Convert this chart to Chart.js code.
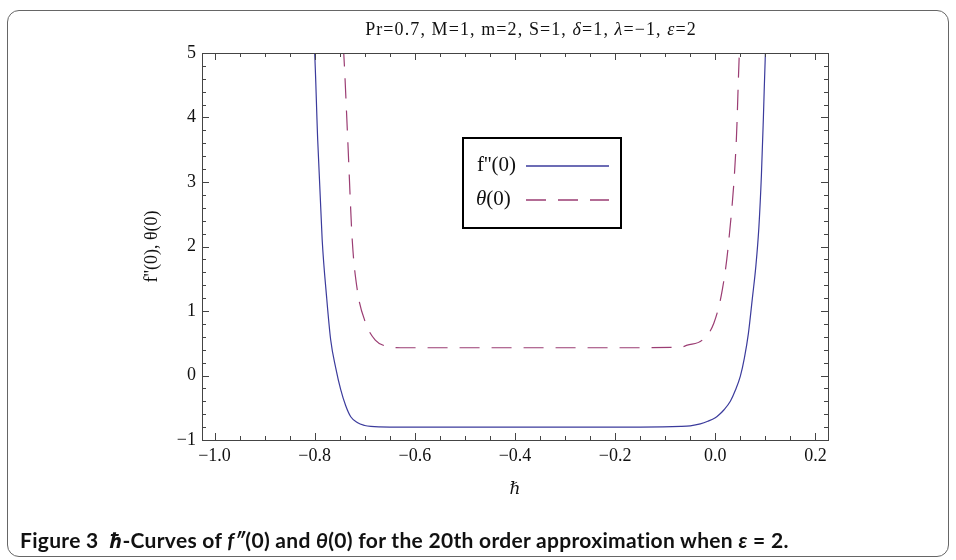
<!DOCTYPE html>
<html>
<head>
<meta charset="utf-8">
<script src="https://cdn.jsdelivr.net/npm/chart.js@4.4.1/dist/chart.umd.min.js"></script>
<style>
  html, body { margin: 0; padding: 0; background: #fff; }
  body { width: 956px; height: 560px; position: relative; overflow: hidden; }
  #frame {
    position: absolute; left: 7px; top: 10px; width: 942px; height: 547px;
    border: 1.5px solid #666; border-radius: 12px; box-sizing: border-box;
  }
  #wrap { position: absolute; left: 0; top: 0; width: 956px; height: 560px; }
  #title {
    position: absolute; top: 19px; left: 531px; transform: translateX(-50%);
    font-family: "Liberation Serif", serif; font-size: 18px; letter-spacing: 1.1px;
    white-space: nowrap; color: #111;
  }
  #caption {
    position: absolute; left: 20px; top: 526px;
    font-family: Lato, "Noto Sans", sans-serif; font-weight: bold; font-size: 21px;
    letter-spacing: 0.3px; white-space: nowrap; color: #111;
  }
</style>
</head>
<body>
<div id="frame"></div>
<div id="wrap"><canvas id="chart" width="956" height="560"></canvas></div>
<div id="title">Pr=0.7, M=1, m=2, S=1, <i>δ</i>=1, <i>λ</i>=−1, <i>ε</i>=2</div>
<div id="caption">Figure 3&nbsp; <i>ℏ</i>-Curves of <i>f″</i>(0) and <i>θ</i>(0) for the 20th order approximation when <i>ε</i> = 2.</div>
<script>
// f''(0) against h
const hF = [-0.801, -0.800, -0.794, -0.785, -0.776, -0.768, -0.758, -0.748, -0.738, -0.728, -0.715, -0.700, -0.688,
            -0.650, -0.500, -0.300, -0.150, -0.069, -0.050, -0.030, -0.015, 0.000, 0.008, 0.017, 0.030, 0.040,
            0.050, 0.058, 0.066, 0.074, 0.081, 0.087, 0.092, 0.096, 0.100, 0.101];
const fpp = [5.1, 5.0, 3.66, 2.1, 1.2, 0.55, 0.12, -0.22, -0.47, -0.64, -0.73, -0.775, -0.79,
             -0.80, -0.80, -0.80, -0.80, -0.79, -0.78, -0.75, -0.71, -0.655, -0.605, -0.535, -0.40, -0.23,
             -0.01, 0.27, 0.65, 1.2, 1.7, 2.3, 3.1, 4.0, 5.0, 5.1];

// theta(0) against h
const hT = [-0.743, -0.742, -0.734, -0.725, -0.715, -0.698, -0.679, -0.660, -0.629, -0.400, -0.200,
            -0.069, -0.056, -0.026, -0.003, 0.014, 0.027, 0.042, 0.048, 0.049];
const theta = [5.1, 5.0, 3.66, 2.1, 1.33, 0.81, 0.55, 0.46, 0.43, 0.43, 0.43,
               0.44, 0.47, 0.55, 0.81, 1.33, 2.1, 3.66, 5.0, 5.1];

const xTicks = [-1.0, -0.8, -0.6, -0.4, -0.2, 0.0, 0.2];
const yTicks = [-1, 0, 1, 2, 3, 4, 5];
const seriesNames = ["f''(0)", "θ(0)"];

const xMin = -1.025, xMax = 0.225, yMin = -1, yMax = 5;
const blue = '#3b3b9c';
const plum = '#9b3d73';
const serif = '"Liberation Serif", serif';

const minus = s => s.replace('-', '\u2212');

// frame with inward ticks on all four sides
const framePlugin = {
  id: 'frame',
  afterDatasetsDraw(chart) {
    const { ctx, chartArea: a, scales: { x, y } } = chart;
    ctx.save();
    ctx.strokeStyle = '#444';
    ctx.lineWidth = 1;
    ctx.strokeRect(a.left + 0.5, a.top + 0.5, a.right - a.left, a.bottom - a.top);
    ctx.beginPath();
    for (let i = -20; i <= 4; i++) {
      const v = i * 0.05;
      if (v < xMin || v > xMax) continue;
      const len = (i % 4 === 0) ? 7 : 4;
      const px = Math.round(x.getPixelForValue(v)) + 0.5;
      ctx.moveTo(px, a.bottom); ctx.lineTo(px, a.bottom - len);
      ctx.moveTo(px, a.top); ctx.lineTo(px, a.top + len);
    }
    for (let i = -5; i <= 25; i++) {
      const v = i * 0.2;
      const len = (i % 5 === 0) ? 7 : 4;
      const py = Math.round(y.getPixelForValue(v)) + 0.5;
      ctx.moveTo(a.left, py); ctx.lineTo(a.left + len, py);
      ctx.moveTo(a.right, py); ctx.lineTo(a.right - len, py);
    }
    ctx.stroke();
    ctx.restore();
  }
};

// boxed legend: label on the left, line sample on the right
const boxLegend = {
  id: 'boxLegend',
  afterDraw(chart) {
    const { ctx, chartArea: a } = chart;
    const bx = a.left + 261, by = a.top + 85, bw = 158, bh = 90;
    ctx.save();
    ctx.strokeStyle = '#000';
    ctx.lineWidth = 2;
    ctx.strokeRect(bx, by, bw, bh);
    ctx.textBaseline = 'middle';
    ctx.fillStyle = '#111';
    chart.data.datasets.forEach((ds, i) => {
      const cy = by + 27 + i * 34;
      ctx.font = '21px ' + serif;
      if (i === 1) {
        ctx.font = 'italic 21px ' + serif;
        ctx.fillText('θ', bx + 13, cy);
        const w = ctx.measureText('θ').width;
        ctx.font = '21px ' + serif;
        ctx.fillText('(0)', bx + 13 + w, cy);
      } else {
        ctx.fillText(ds.label, bx + 14, cy);
      }
      ctx.beginPath();
      ctx.strokeStyle = ds.borderColor;
      ctx.lineWidth = 1.3;
      ctx.setLineDash(ds.borderDash || []);
      ctx.moveTo(bx + 63, cy + 1);
      ctx.lineTo(bx + 146, cy + 1);
      ctx.stroke();
      ctx.setLineDash([]);
    });
    ctx.restore();
  }
};

new Chart(document.getElementById('chart'), {
  type: 'line',
  data: {
    datasets: [
      {
        label: seriesNames[0],
        data: hF.map((h, i) => ({ x: h, y: fpp[i] })),
        borderColor: blue,
        borderWidth: 1.2,
        pointRadius: 0,
        cubicInterpolationMode: 'monotone',
        fill: false
      },
      {
        label: seriesNames[1],
        data: hT.map((h, i) => ({ x: h, y: theta[i] })),
        borderColor: plum,
        borderWidth: 1.2,
        borderDash: [20, 12],
        pointRadius: 0,
        cubicInterpolationMode: 'monotone',
        fill: false
      }
    ]
  },
  options: {
    responsive: false,
    animation: false,
    devicePixelRatio: 1,
    layout: { padding: { left: 141, top: 53, right: 128, bottom: 60 } },
    scales: {
      x: {
        type: 'linear',
        min: xMin, max: xMax,
        grid: { display: false, drawTicks: false },
        border: { display: false },
        afterBuildTicks: s => { s.ticks = xTicks.map(v => ({ value: v })); },
        afterFit: s => { s.height = 60; },
        ticks: {
          padding: 5,
          color: '#111',
          font: { family: serif, size: 18 },
          callback: v => minus(v.toFixed(1))
        },
        title: {
          display: true, text: 'ℏ', color: '#111',
          padding: { top: 0, bottom: 0 },
          font: { family: '"DejaVu Serif", serif', size: 17, style: 'italic' }
        }
      },
      y: {
        type: 'linear',
        min: yMin, max: yMax,
        grid: { display: false, drawTicks: false },
        border: { display: false },
        afterBuildTicks: s => { s.ticks = yTicks.map(v => ({ value: v })); },
        afterFit: s => { s.width = 61; },
        ticks: {
          padding: 6,
          color: '#111',
          font: { family: serif, size: 18 },
          callback: v => minus(String(v))
        },
        title: {
          display: true, text: "f''(0), θ(0)", color: '#111',
          padding: { top: 0, bottom: 0 },
          font: { family: serif, size: 18 }
        }
      }
    },
    plugins: {
      legend: { display: false },
      tooltip: { enabled: false }
    }
  },
  plugins: [framePlugin, boxLegend]
});
</script>
</body>
</html>
